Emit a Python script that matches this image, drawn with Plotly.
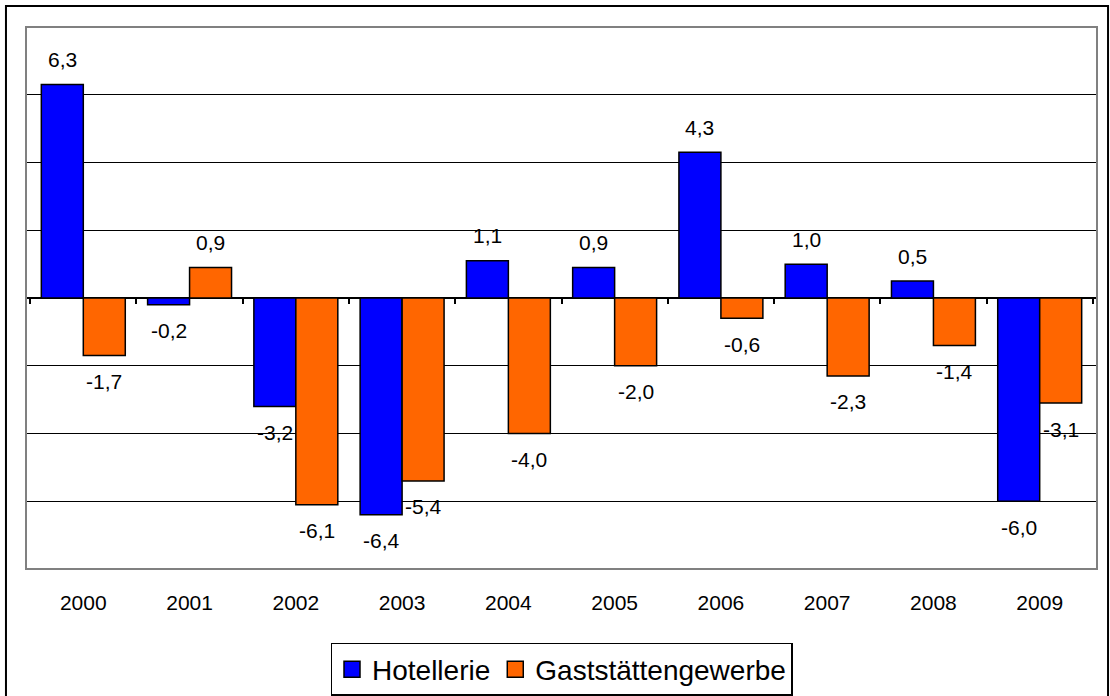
import plotly.graph_objects as go

# Veränderung gegenüber Vorjahr in %
years = ['2000', '2001', '2002', '2003', '2004', '2005', '2006', '2007', '2008', '2009']
hotellerie = [6.3, -0.2, -3.2, -6.4, 1.1, 0.9, 4.3, 1.0, 0.5, -6.0]
gaststaetten = [-1.7, 0.9, -6.1, -5.4, -4.0, -2.0, -0.6, -2.3, -1.4, -3.1]

series_names = ['Hotellerie', 'Gaststättengewerbe']
series_colors = ['#0000FF', '#FF6600']

FONT = 'Liberation Sans, Arial, sans-serif'
BARGAP = 0.21

fig = go.Figure()

for name, vals, col in zip(series_names, [hotellerie, gaststaetten], series_colors):
    fig.add_trace(go.Bar(
        x=years, y=vals, name=name,
        marker=dict(color=col, line=dict(color='black', width=1.5)),
        hoverinfo='x+y', showlegend=False,
    ))

# legend entries with larger square swatches
for name, col in zip(series_names, series_colors):
    fig.add_trace(go.Scatter(
        x=[None], y=[None], name=name, mode='markers',
        marker=dict(symbol='square', size=16, color=col,
                    line=dict(color='black', width=1.5)),
    ))

# invisible helper trace so the tick axis on the zero line gets drawn
fig.add_trace(go.Scatter(
    x=years, y=[0] * len(years), xaxis='x2', mode='markers',
    marker=dict(opacity=0), showlegend=False, hoverinfo='skip',
))

# data labels, German decimal comma
bar_w = (1 - BARGAP) / 2
annotations = []
for k, vals in enumerate([hotellerie, gaststaetten]):
    off = (k - 0.5) * bar_w
    for i, v in enumerate(vals):
        annotations.append(dict(
            x=i + off, y=v, xref='x', yref='y',
            text=f'{v:.1f}'.replace('.', ','),
            showarrow=False, yanchor='middle',
            yshift=25 if v >= 0 else -26,
            font=dict(family=FONT, size=21, color='black'),
        ))

fig.update_layout(
    width=1110, height=696,
    margin=dict(l=26, r=13, t=27, b=127, autoexpand=False),
    paper_bgcolor='white', plot_bgcolor='white',
    barmode='group', bargap=BARGAP, bargroupgap=0,
    font=dict(family=FONT, size=21, color='black'),
    xaxis=dict(
        type='category', showgrid=False, showline=False, zeroline=False,
        ticks='', ticklabelstandoff=19,
        tickfont=dict(family=FONT, size=21, color='black'),
    ),
    xaxis2=dict(
        type='category', overlaying='x', matches='x', anchor='free', position=0.5,
        side='bottom', showline=False, showgrid=False, zeroline=False,
        ticks='outside', ticklen=5, tickwidth=1.5, tickcolor='black',
        tickson='boundaries', showticklabels=False,
    ),
    yaxis=dict(
        range=[-8, 8], dtick=2, showticklabels=False, ticks='',
        showgrid=True, gridcolor='black', gridwidth=1,
        zeroline=True, zerolinecolor='black', zerolinewidth=1.5,
        showline=False,
    ),
    showlegend=True,
    legend=dict(
        orientation='h', x=0.5, xanchor='center', y=-0.1365, yanchor='top',
        bordercolor='black', borderwidth=1.5, bgcolor='white',
        font=dict(family=FONT, size=28, color='black'),
        itemwidth=30, tracegroupgap=0, itemsizing='trace',
    ),
    annotations=annotations,
    shapes=[
        # gray plot-area frame
        dict(type='rect', xref='paper', yref='paper', x0=0, y0=0, x1=1, y1=1,
             line=dict(color='#808080', width=2), layer='above'),
        # black outer frame around the whole chart
        dict(type='rect', xref='paper', yref='paper',
             x0=-0.0187, x1=1.0103, y0=-0.24, y1=1.0387,
             line=dict(color='black', width=2)),
    ],
)

fig.write_html('out.html', config={'displayModeBar': False},
               post_script="document.body.style.margin='0';")
